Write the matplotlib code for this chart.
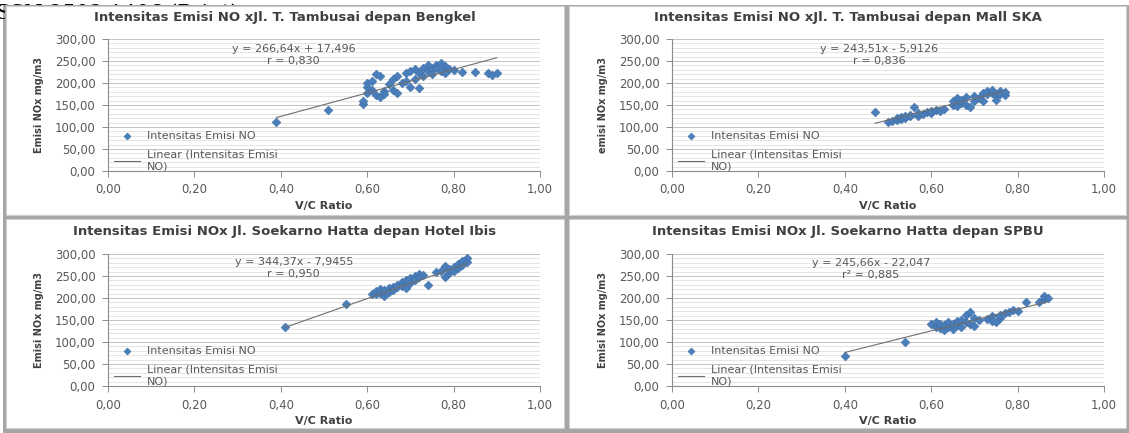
import matplotlib.pyplot as plt
from matplotlib.patches import Rectangle
from matplotlib.ticker import MultipleLocator, FuncFormatter

# --- data ---
titles = [
    "Intensitas Emisi NO xJl. T. Tambusai depan Bengkel",
    "Intensitas Emisi NO xJl. T. Tambusai depan Mall SKA",
    "Intensitas Emisi NOx Jl. Soekarno Hatta depan Hotel Ibis",
    "Intensitas Emisi NOx Jl. Soekarno Hatta depan SPBU",
]
ylabels = ["Emisi NOx mg/m3", "emisi NOx mg/m3", "Emisi NOx mg/m3", "Emisi NOx mg/m3"]

x1 = [0.39, 0.51, 0.59, 0.59, 0.60, 0.60, 0.60, 0.61, 0.61, 0.62, 0.62, 0.63, 0.63, 0.64, 0.64, 0.65,
      0.66, 0.66, 0.67, 0.67, 0.68, 0.69, 0.69, 0.70, 0.70, 0.71, 0.71, 0.72, 0.72, 0.73, 0.73, 0.74,
      0.74, 0.75, 0.75, 0.76, 0.76, 0.77, 0.77, 0.78, 0.78, 0.79, 0.80, 0.82, 0.85, 0.88, 0.89, 0.90]
y1 = [112, 139, 152, 160, 178, 190, 200, 205, 185, 220, 172, 215, 168, 182, 175, 198,
      185, 208, 178, 215, 200, 222, 205, 192, 228, 210, 232, 188, 222, 235, 215, 228,
      240, 232, 220, 242, 235, 245, 228, 238, 222, 232, 230, 225, 226, 222, 218, 222]

x2 = [0.47, 0.50, 0.51, 0.52, 0.52, 0.53, 0.53, 0.54, 0.54, 0.55, 0.55, 0.56, 0.57, 0.57, 0.58,
      0.59, 0.60, 0.60, 0.61, 0.62, 0.63, 0.65, 0.65, 0.66, 0.66, 0.67, 0.67, 0.68, 0.68, 0.69,
      0.70, 0.70, 0.71, 0.72, 0.72, 0.73, 0.73, 0.74, 0.74, 0.75, 0.75, 0.76, 0.76, 0.77, 0.77]
y2 = [135, 112, 114, 116, 120, 118, 123, 121, 126, 124, 128, 146, 126, 132, 130,
      134, 132, 137, 138, 136, 140, 150, 158, 148, 165, 155, 162, 150, 168, 145,
      160, 170, 165, 178, 160, 175, 182, 178, 185, 170, 162, 182, 176, 172, 180]

x3 = [0.41, 0.55, 0.61, 0.62, 0.62, 0.63, 0.63, 0.64, 0.64, 0.65, 0.65, 0.66, 0.66, 0.67, 0.67,
      0.68, 0.68, 0.69, 0.69, 0.70, 0.70, 0.71, 0.71, 0.72, 0.72, 0.73, 0.74, 0.76, 0.77, 0.78,
      0.78, 0.79, 0.79, 0.80, 0.80, 0.81, 0.81, 0.82, 0.82, 0.83, 0.83]
y3 = [133, 186, 210, 208, 215, 212, 220, 205, 218, 222, 214, 226, 218, 230, 224,
      236, 228, 240, 222, 246, 235, 250, 242, 254, 247, 252, 230, 258, 262, 272,
      248, 256, 266, 262, 270, 268, 278, 276, 284, 282, 290]

x4 = [0.40, 0.54, 0.60, 0.61, 0.61, 0.62, 0.62, 0.63, 0.63, 0.64, 0.64, 0.65, 0.65, 0.66, 0.66,
      0.67, 0.67, 0.68, 0.68, 0.69, 0.69, 0.70, 0.70, 0.71, 0.73, 0.74, 0.74, 0.75, 0.76, 0.76,
      0.77, 0.78, 0.79, 0.80, 0.82, 0.85, 0.86, 0.86, 0.87]
y4 = [68, 101, 140, 135, 145, 132, 142, 128, 138, 135, 145, 130, 140, 138, 148,
      134, 150, 145, 162, 140, 168, 136, 155, 150, 152, 158, 148, 145, 155, 162,
      165, 168, 172, 170, 192, 190, 198, 205, 200]

slopes = [266.64, 243.51, 344.37, 245.66]
intercepts = [17.496, -5.9126, -7.9455, -22.047]
eq_labels = ["y = 266,64x + 17,496", "y = 243,51x - 5,9126", "y = 344,37x - 7,9455", "y = 245,66x - 22,047"]
r_labels = ["r = 0,830", "r = 0,836", "r = 0,950", "r\u00b2 = 0,885"]
eq_pos = [(0.43, 277), (0.48, 277), (0.43, 281), (0.46, 279)]

xs = [x1, x2, x3, x4]
ys = [y1, y2, y3, y4]

# --- layout in pixels (left, top, right, bottom) ---
W, H = 1129, 433
panels = [(6, 6, 564, 215), (569, 6, 1126, 215), (6, 219, 564, 428), (569, 219, 1126, 428)]
plots = [(108, 39, 540, 171), (672, 39, 1104, 171), (108, 254, 540, 386), (672, 254, 1104, 386)]

BLUE = "#4a7ebb"
GREY_TXT = "#595959"


def frac(l, t, r, b):
    return [l / W, 1 - b / H, (r - l) / W, (b - t) / H]


def comma(v, _pos=None):
    return f"{v:.2f}".replace(".", ",")


fig = plt.figure(figsize=(W / 100, H / 100), dpi=100)

# grey frame with the four white chart areas
bg = fig.add_axes([0, 0, 1, 1])
bg.axis("off")
bg.set_xlim(0, W)
bg.set_ylim(H, 0)
bg.add_patch(Rectangle((3, 5), W, H, facecolor="#a6a6a6", edgecolor="none"))
for l, t, r, b in panels:
    bg.add_patch(Rectangle((l, t), r - l, b - t, facecolor="white", edgecolor="#d0d0d0", lw=0.8))

# page header: only the slivers outside the frame show, so draw it in two clipped strips
for strip in [(0, 0, W, 5), (0, 0, 5, H)]:
    sx = fig.add_axes(frac(*strip))
    sx.axis("off")
    sx.set_xlim(strip[0], strip[2])
    sx.set_ylim(strip[3], strip[1])
    sx.text(-12, 19, "ISSN 2503-1406 (Print)", family="DejaVu Serif", fontsize=15,
            va="baseline", clip_on=True)

for i in range(4):
    pl, pt, pr, pb = panels[i]
    bg.text((pl + pr) / 2, pt + 12, titles[i], fontsize=9.5, fontweight="bold",
            color="#404040", ha="center", va="center")

    ax = fig.add_axes(frac(*plots[i]))
    ax.patch.set_alpha(0)

    ax.scatter(xs[i], ys[i], marker="D", s=20, color=BLUE, edgecolors="#3f6fa8",
               linewidths=0.4, zorder=3, label="Intensitas Emisi NO")
    lo, hi = min(xs[i]), max(xs[i])
    ax.plot([lo, hi], [slopes[i] * lo + intercepts[i], slopes[i] * hi + intercepts[i]],
            color="#6e6e6e", lw=0.8, zorder=4, label="Linear (Intensitas Emisi\nNO)")

    ax.set_xlim(0, 1)
    ax.set_ylim(0, 300)
    ax.xaxis.set_major_locator(MultipleLocator(0.2))
    ax.yaxis.set_major_locator(MultipleLocator(50))
    ax.yaxis.set_minor_locator(MultipleLocator(10))
    ax.xaxis.set_major_formatter(FuncFormatter(comma))
    ax.yaxis.set_major_formatter(FuncFormatter(comma))
    ax.grid(axis="y", which="major", color="#c4c4c4", lw=0.7)
    ax.grid(axis="y", which="minor", color="#e0e0e0", lw=0.6)
    ax.set_axisbelow(True)
    for side in ["top", "right"]:
        ax.spines[side].set_visible(False)
    for side in ["left", "bottom"]:
        ax.spines[side].set_color("#8c8c8c")
        ax.spines[side].set_linewidth(0.8)
    ax.tick_params(which="major", length=4, width=0.7, color="#8c8c8c",
                   labelsize=8.5, labelcolor=GREY_TXT, pad=5)
    ax.tick_params(which="minor", length=0)

    ax.set_xlabel("V/C Ratio", fontsize=8, fontweight="bold", color="#404040", labelpad=3)
    ax.set_ylabel(ylabels[i], fontsize=7, fontweight="bold", color="#404040", labelpad=8)

    ex, ey = eq_pos[i]
    ax.text(ex, ey, eq_labels[i], fontsize=8, color=GREY_TXT, ha="center", va="center")
    ax.text(ex, ey - 26, r_labels[i], fontsize=8, color=GREY_TXT, ha="center", va="center")

    ax.legend(loc="lower left", bbox_to_anchor=(-0.01, -0.08), frameon=False, fontsize=8,
              labelcolor=GREY_TXT, handlelength=2.4, handletextpad=0.6, labelspacing=0.8,
              markerscale=0.8)

fig.savefig("out.png", dpi=100)
